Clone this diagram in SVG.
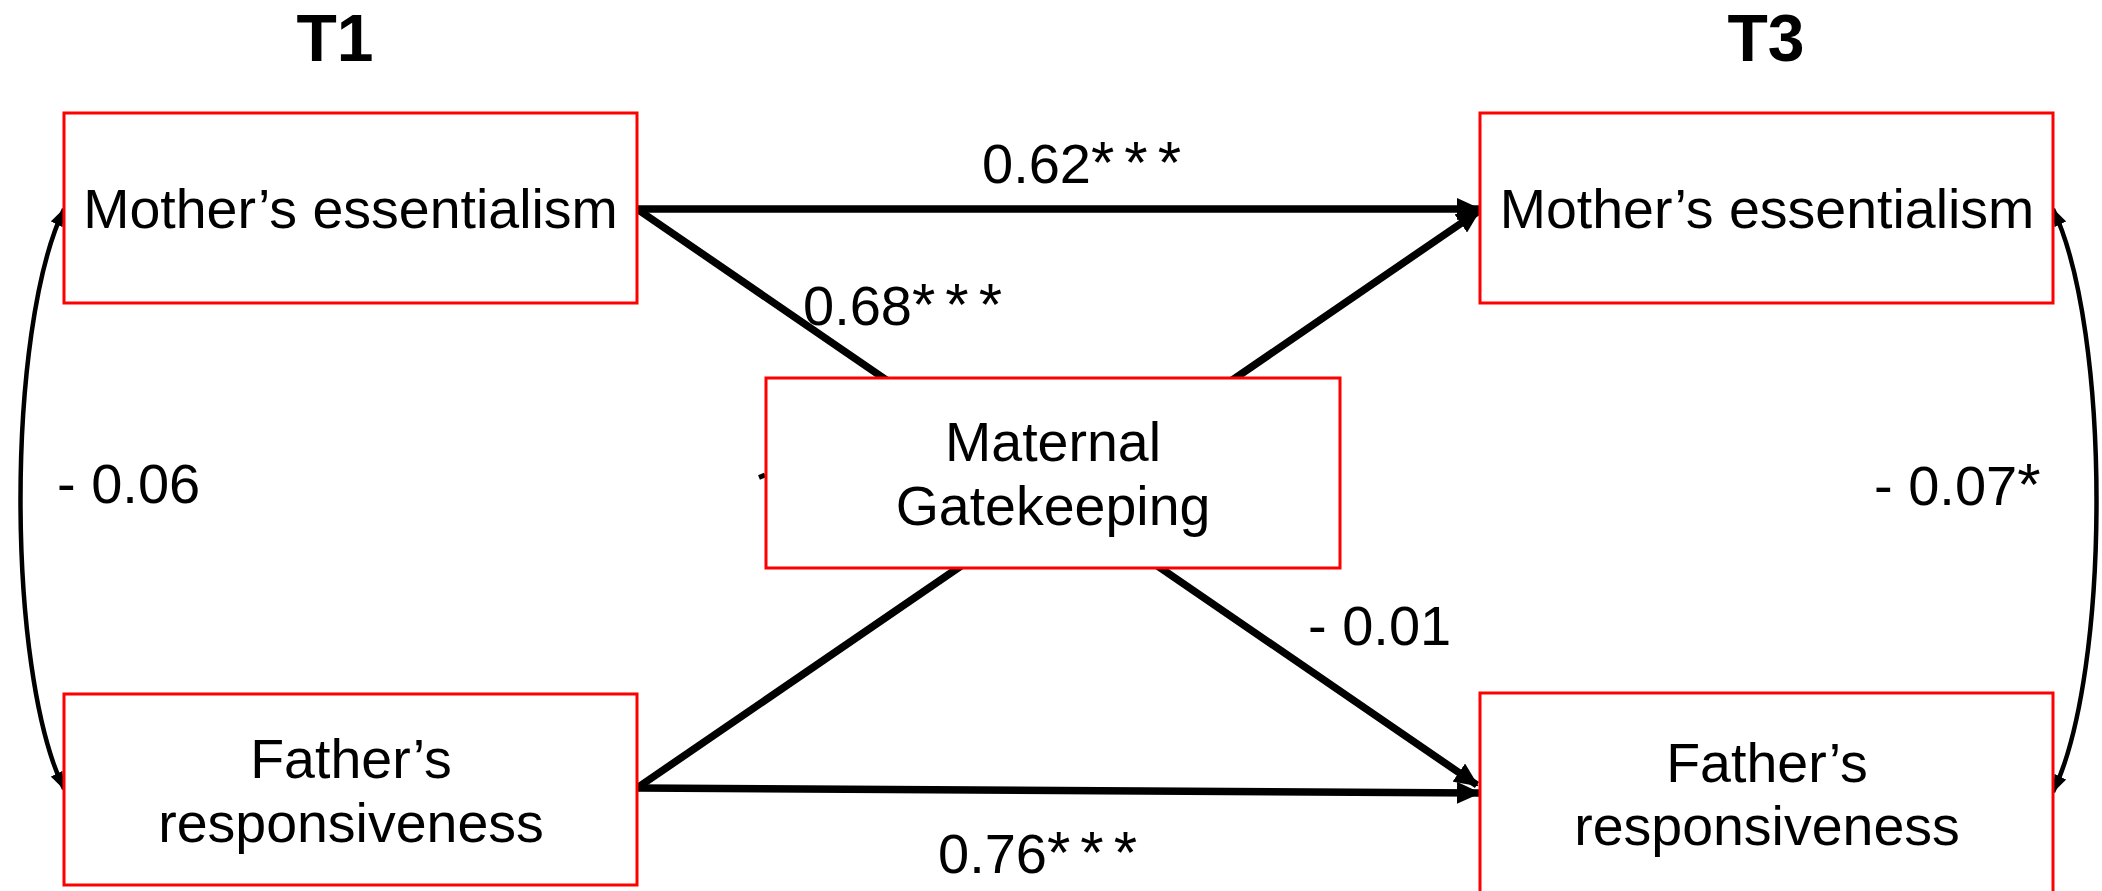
<svg xmlns="http://www.w3.org/2000/svg" width="2102" height="891" viewBox="0 0 2102 891">
<style>
.box{fill:#fff;stroke:#ff0000;stroke-width:3}
.nt{font-family:"Liberation Sans",Arial,sans-serif;font-size:55.5px;fill:#000;text-anchor:middle}
.lbl{font-family:"Liberation Sans",Arial,sans-serif;font-size:56px;fill:#000}
.ast{font-size:60px;letter-spacing:10px}
.ttl{font-family:"Liberation Sans",Arial,sans-serif;font-size:66px;font-weight:bold;fill:#000;text-anchor:middle}
.main{fill:none;stroke:#000;stroke-width:7.5;marker-end:url(#ah)}
.cov{fill:none;stroke:#000;stroke-width:4.5;marker-start:url(#sh);marker-end:url(#sh)}
</style>
<defs>
<marker id="ah" markerUnits="userSpaceOnUse" markerWidth="24" markerHeight="22" viewBox="0 0 24 22" refX="22" refY="11" orient="auto">
<path d="M0,0 L24,11 L0,22 z" fill="#000"/>
</marker>
<marker id="sh" markerUnits="userSpaceOnUse" markerWidth="18" markerHeight="13" viewBox="0 0 18 13" refX="17" refY="6.5" orient="auto-start-reverse">
<path d="M0,0 L18,6.5 L0,13 z" fill="#000"/>
</marker>
</defs>
<rect width="2102" height="891" fill="#fff"/>
<text class="ttl" x="335" y="61">T1</text>
<text class="ttl" x="1766" y="61">T3</text>
<g id="connectors">
<line class="main" x1="637" y1="209" x2="1479" y2="209"/>
<line class="main" x1="637" y1="209" x2="1477" y2="785"/>
<line class="main" x1="637" y1="788" x2="1479" y2="211"/>
<line class="main" x1="637" y1="788" x2="1479" y2="793"/>
<path class="cov" d="M64,209 C6,330 6,670 64,789"/>
<path class="cov" d="M2053,209 C2111,330 2111,672 2053,792"/>
<line x1="759" y1="477.5" x2="765" y2="475" stroke="#000" stroke-width="5"/>
</g>
<g id="labels">
<text class="lbl" x="982" y="183">0.62<tspan class="ast">***</tspan></text>
<text class="lbl" x="803" y="325">0.68<tspan class="ast">***</tspan></text>
<text class="lbl" x="1308" y="645">- 0.01</text>
<text class="lbl" x="938" y="873">0.76<tspan class="ast">***</tspan></text>
<text class="lbl" x="57" y="503">- 0.06</text>
<text class="lbl" x="1874" y="505">- 0.07<tspan class="ast">*</tspan></text>
</g>
<g id="n-mother-t1">
<rect class="box" x="64" y="113" width="573" height="190"/>
<text class="nt" x="350.5" y="228">Mother’s essentialism</text>
</g>
<g id="n-father-t1">
<rect class="box" x="64" y="694" width="573" height="191"/>
<text class="nt" x="351" y="778">Father’s</text>
<text class="nt" x="351" y="842">responsiveness</text>
</g>
<g id="n-mother-t3">
<rect class="box" x="1480" y="113" width="573" height="190"/>
<text class="nt" x="1767" y="228">Mother’s essentialism</text>
</g>
<g id="n-father-t3">
<rect class="box" x="1480" y="693" width="573" height="215"/>
<text class="nt" x="1767" y="782">Father’s</text>
<text class="nt" x="1767" y="845">responsiveness</text>
</g>
<g id="n-gatekeeping">
<rect class="box" x="766" y="378" width="574" height="190"/>
<text class="nt" x="1053" y="461">Maternal</text>
<text class="nt" x="1053" y="525">Gatekeeping</text>
</g>
</svg>
